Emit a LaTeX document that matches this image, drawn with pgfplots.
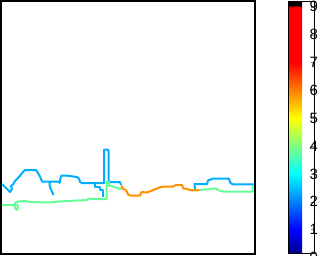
\documentclass[border=0pt]{standalone}
\usepackage{fontspec}
\setmainfont{Liberation Sans}
\usepackage{pgfplots}
\pgfplotsset{compat=1.18}
\pgfplotsset{/pgf/number format/assume math mode=true}
\definecolor{lblue}{RGB}{0,175,255}
\definecolor{lgreen}{RGB}{100,255,150}
\definecolor{lorange}{RGB}{255,145,0}
\pgfplotsset{colormap={mycm}{rgb255(0pt)=(0,0,140); rgb255(86pt)=(0,0,255); rgb255(186pt)=(0,128,255); rgb255(286pt)=(0,255,255); rgb255(386pt)=(128,255,128); rgb255(486pt)=(255,255,0); rgb255(586pt)=(255,128,0); rgb255(686pt)=(255,0,0); rgb255(886pt)=(255,0,0); rgb255(891pt)=(0,0,0); rgb255(905pt)=(0,0,0)}}
\begin{document}
\begin{tikzpicture}
\begin{axis}[
  scale only axis, width=254bp, height=253bp,
  at={(1bp,2bp)}, anchor=south west,
  xmin=1, xmax=255, ymin=1, ymax=254, y dir=reverse,
  xtick=\empty, ytick=\empty,
  axis line style={line width=2bp},
  colormap name=mycm,
  point meta min=0.14, point meta max=9.19,
  colorbar right,
  colorbar style={
    at={(parent axis.north east)}, anchor=north west,
    xshift=24.5bp, yshift=-0.5bp,
    width=26bp, height=252bp,
    ytick={1,2,3,4,5,6,7,8,9},
    ytick pos=right, tick align=inside,
    major tick length=3bp,
    yticklabel pos=right,
    yticklabel style={font=\fontsize{15}{17}\selectfont, inner sep=0.5bp, xshift=-5bp},
    axis line style={line width=0.8bp},
    clip=false,
    after end axis/.code={\node[anchor=west, inner sep=0.5bp, xshift=-5bp, font=\fontsize{15}{17}\selectfont] at (rel axis cs:1,-0.0155) {0};},
  },
]
% blue
\addplot[lblue, line width=2bp, line join=round] coordinates {
(2,184) (5,187) (8,190) (10,192) (12,189) (11,186) (13,184.5) (15,181) (18,178) (21,174.5) (23,172) (25,170) (36,170) (37.5,172.5) (39.5,175.5) (41,179) (42,181.5) (59,181.5) (59.5,183) (60.5,178) (61.5,175.5) (66,175.5) (69,176) (77,177) (79,178.5) (80,182) (82,183) (104,183) (104,150) (105,149.5) (108,149.5) (108.5,151) (108.5,182) (120,182) (121,185)};
\addplot[lblue, line width=2bp, line join=round] coordinates {
(50,181.5) (49.5,185) (50.5,188.5) (52,191.5) (53.5,195)};
\addplot[lblue, line width=2bp, line join=round] coordinates {
(95,183) (95,186.5) (100,186.5) (100,190) (102.5,190) (102.5,196.5)};
\addplot[lblue, line width=2bp, line join=round] coordinates {
(195,190) (194.5,184) (207,184) (208,180.5) (213,178.5) (229,178.5) (230,182.5) (232.5,184.3) (254,184.3)};
% green
\addplot[lgreen, line width=2bp, line join=round] coordinates {
(2,205) (14.5,205) (15.5,202.5) (18,201.5) (25,201) (30,202) (50,202.5) (52,202) (68,201) (87,200) (88.5,198.5) (92,199) (106.5,199) (106.5,182) (109,182) (109,185.5) (113,186.5) (119,188.5) (122,188.5)};
\addplot[lgreen, line width=2bp, line join=round] coordinates {
(14.5,205) (15,208) (17,210) (18,207) (17,204)};
\addplot[lgreen, line width=2bp, line join=round] coordinates {
(199,190) (216,188.5) (219,190.5) (224,191.7) (252.5,191.7) (252.5,186)};
% orange
\addplot[lorange, line width=2bp, line join=round] coordinates {
(121.5,185.5) (122.5,188.5) (126.5,190.5) (128,194.5) (130,195.5) (140,195.5) (141.5,192) (147,192.5) (152,190.5) (157,188.5) (161,187) (165,186.5) (173,186.5) (176,185) (182,185) (183.5,188.5) (187,189) (190,190) (195,190.5) (199,190)};
\end{axis}
\pgfresetboundingbox
\path[use as bounding box] (0,0) rectangle (326bp,256bp);
\end{tikzpicture}
\end{document}
